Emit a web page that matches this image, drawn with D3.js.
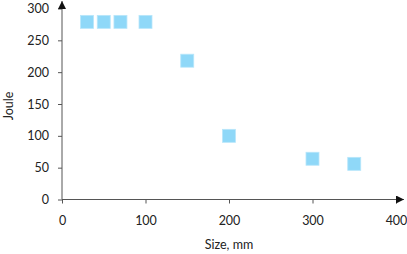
<!DOCTYPE html>
<html>
<head>
<meta charset="utf-8">
<script src="https://cdn.jsdelivr.net/npm/d3@7"></script>
<style>
  html, body { margin: 0; padding: 0; background: #fff; }
  svg { display: block; font-family: Lato, "Open Sans", sans-serif; }
</style>
</head>
<body>
<div id="chart"></div>
<script>
  // data
  const sizes = [30, 50, 70, 100, 150, 200, 300, 350];
  const joules = [279, 279, 279, 279, 218, 100, 64, 56];
  const xTicks = [0, 100, 200, 300, 400];
  const yTicks = [0, 50, 100, 150, 200, 250, 300];

  const width = 407, height = 254;
  const plotLeft = 62, plotBottom = 199.5, plotTop = 8.5, plotRight = 396;

  const svg = d3.select('#chart').append('svg')
    .attr('width', width)
    .attr('height', height);

  const x = d3.scaleLinear().domain([0, 400]).range([plotLeft, plotRight]);
  const y = d3.scaleLinear().domain([0, 300]).range([plotBottom, plotTop]);

  const axisColor = '#555';

  // arrow heads
  const defs = svg.append('defs');
  defs.append('marker')
    .attr('id', 'arrow')
    .attr('viewBox', '0 0 10 10')
    .attr('refX', 10).attr('refY', 5)
    .attr('markerWidth', 10).attr('markerHeight', 8)
    .attr('markerUnits', 'userSpaceOnUse')
    .attr('orient', 'auto')
    .append('path')
    .attr('d', 'M0,0L10,5L0,10Z')
    .attr('fill', '#111');

  // x axis
  const xg = svg.append('g').attr('transform', `translate(0,${plotBottom})`);
  xg.call(d3.axisBottom(x).tickValues(xTicks).tickSize(4).tickSizeOuter(0).tickPadding(13));
  xg.select('.domain').remove();
  xg.selectAll('.tick line').attr('stroke', axisColor);
  xg.selectAll('.tick text').attr('font-size', 12.5).attr('fill', '#222').attr('font-family', 'Lato, sans-serif');
  svg.append('line')
    .attr('x1', plotLeft).attr('y1', plotBottom).attr('x2', 404).attr('y2', plotBottom)
    .attr('stroke', axisColor).attr('marker-end', 'url(#arrow)');

  // y axis
  const yg = svg.append('g').attr('transform', `translate(${plotLeft},0)`);
  yg.call(d3.axisLeft(y).tickValues(yTicks).tickSize(4).tickSizeOuter(0).tickPadding(9));
  yg.select('.domain').remove();
  yg.selectAll('.tick line').attr('stroke', axisColor);
  yg.selectAll('.tick text').attr('font-size', 12.5).attr('fill', '#222').attr('font-family', 'Lato, sans-serif');
  svg.append('line')
    .attr('x1', plotLeft).attr('y1', plotBottom).attr('x2', plotLeft).attr('y2', 1)
    .attr('stroke', axisColor).attr('marker-end', 'url(#arrow)');

  // axis titles
  svg.append('text')
    .attr('x', 229).attr('y', 249)
    .attr('text-anchor', 'middle')
    .attr('font-size', 12.5).attr('fill', '#222')
    .text('Size, mm');
  svg.append('text')
    .attr('transform', 'translate(13,106) rotate(-90)')
    .attr('text-anchor', 'middle')
    .attr('font-size', 12.5).attr('fill', '#222')
    .text('Joule');

  // points
  const s = 13;
  svg.append('g').selectAll('rect')
    .data(sizes.map((d, i) => ({ size: d, joule: joules[i] })))
    .enter().append('rect')
    .attr('x', d => x(d.size) - s / 2)
    .attr('y', d => y(d.joule) - s / 2)
    .attr('width', s).attr('height', s)
    .attr('fill', '#8fd8f8')
    .attr('stroke', '#b8e6fa')
    .attr('stroke-width', 0.8);
</script>
</body>
</html>
